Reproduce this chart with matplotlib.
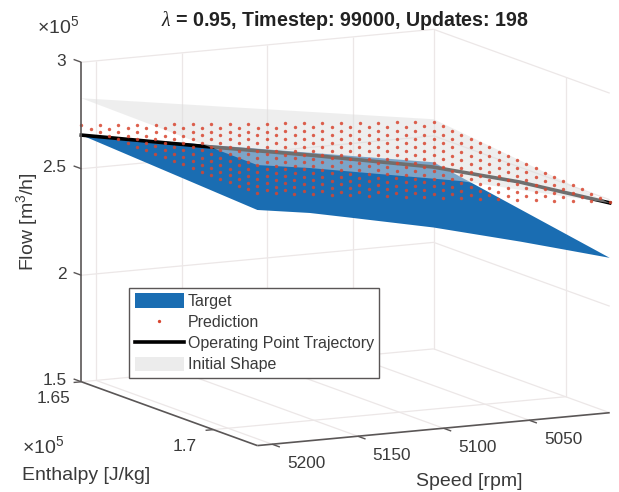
import numpy as np
import matplotlib
matplotlib.use("Agg")
import matplotlib.pyplot as plt
from matplotlib.lines import Line2D
from matplotlib.patches import Patch
from mpl_toolkits.mplot3d.art3d import Poly3DCollection

plt.rcParams['font.family'] = ['Liberation Sans', 'DejaVu Sans']
plt.rcParams['mathtext.fontset'] = 'custom'
plt.rcParams['mathtext.rm'] = 'Liberation Sans'
plt.rcParams['mathtext.it'] = 'Liberation Serif:italic'

# axis limits and ticks, enthalpy and flow in units of 1e5
speed_lim = [5003, 5208.6]
enthalpy_lim = [1.65, 1.7167]
flow_lim = [1.5, 3.0]
speed_ticks = [5200, 5150, 5100, 5050]
enthalpy_ticks = [1.65, 1.7]
flow_ticks = [1.5, 2.0, 2.5, 3.0]
flow_tick_labels = ['1.5', '2', '2.5', '3']

# target surface, front edge runs from max speed to min speed at max enthalpy
target_edge_speed = [5208.6, 5178, 5153, 5106, 5055, 5028.7, 5003]
target_edge_flow = [2.606, 2.569, 2.527, 2.447, 2.342, 2.284, 2.227]
target_back_flow = [2.658, 2.376]  # max speed, min speed at min enthalpy

# initial shape
initial_edge_speed = [5208.6, 5178, 5090, 5003]
initial_edge_flow = [2.817, 2.780, 2.653, 2.484]
initial_back_flow = [2.831, 2.578]

# operating point trajectory
traj_speed = [5208.6, 5161.5, 5119.8, 5071.9, 5038, 5003]
traj_enthalpy = [1.65, 1.6653, 1.6788, 1.6944, 1.7053, 1.7167]
traj_flow = [2.658, 2.639, 2.627, 2.605, 2.558, 2.485]

# prediction grid, rows go min to max enthalpy, columns max to min speed
pred_flow = [
    [2.705,2.698,2.690,2.683,2.675,2.668,2.660,2.653,2.646,2.638,2.631,2.623,2.616,2.609,2.601,2.594,2.586,2.579,2.571,2.564],
    [2.704,2.696,2.689,2.681,2.674,2.666,2.659,2.651,2.643,2.636,2.628,2.621,2.613,2.605,2.598,2.590,2.583,2.575,2.568,2.560],
    [2.703,2.695,2.688,2.680,2.672,2.664,2.657,2.649,2.641,2.633,2.626,2.618,2.610,2.602,2.595,2.587,2.579,2.571,2.564,2.556],
    [2.702,2.694,2.686,2.678,2.670,2.663,2.655,2.647,2.639,2.631,2.623,2.615,2.607,2.599,2.592,2.584,2.576,2.568,2.560,2.552],
    [2.701,2.693,2.685,2.677,2.669,2.661,2.653,2.645,2.637,2.629,2.621,2.613,2.605,2.596,2.588,2.580,2.572,2.564,2.556,2.548],
    [2.700,2.692,2.684,2.675,2.667,2.659,2.651,2.643,2.634,2.626,2.618,2.610,2.602,2.593,2.585,2.577,2.569,2.561,2.552,2.544],
    [2.699,2.691,2.682,2.674,2.666,2.657,2.649,2.641,2.632,2.624,2.615,2.607,2.599,2.590,2.582,2.574,2.565,2.557,2.549,2.540],
    [2.698,2.689,2.681,2.672,2.664,2.655,2.647,2.638,2.630,2.621,2.613,2.604,2.596,2.587,2.579,2.570,2.562,2.553,2.545,2.536],
    [2.697,2.688,2.680,2.671,2.662,2.654,2.645,2.636,2.628,2.619,2.610,2.602,2.593,2.584,2.576,2.567,2.558,2.550,2.541,2.532],
    [2.696,2.687,2.678,2.670,2.661,2.652,2.643,2.634,2.625,2.617,2.608,2.599,2.590,2.581,2.573,2.564,2.555,2.546,2.537,2.528],
    [2.695,2.686,2.677,2.668,2.659,2.650,2.641,2.632,2.623,2.614,2.605,2.596,2.587,2.578,2.569,2.560,2.551,2.542,2.533,2.525],
    [2.694,2.685,2.676,2.667,2.657,2.648,2.639,2.630,2.621,2.612,2.603,2.593,2.584,2.575,2.566,2.557,2.548,2.539,2.530,2.521],
    [2.693,2.684,2.674,2.665,2.656,2.647,2.637,2.628,2.619,2.609,2.600,2.591,2.582,2.572,2.563,2.554,2.544,2.535,2.526,2.517],
    [2.692,2.683,2.673,2.664,2.654,2.645,2.635,2.626,2.616,2.607,2.598,2.588,2.579,2.569,2.560,2.550,2.541,2.531,2.522,2.513],
    [2.691,2.681,2.672,2.662,2.653,2.643,2.633,2.624,2.614,2.605,2.595,2.585,2.576,2.566,2.557,2.547,2.537,2.528,2.518,2.509],
    [2.690,2.680,2.671,2.661,2.651,2.641,2.632,2.622,2.612,2.602,2.593,2.583,2.573,2.563,2.553,2.544,2.534,2.524,2.515,2.505],
    [2.689,2.679,2.669,2.659,2.649,2.639,2.630,2.620,2.610,2.600,2.590,2.580,2.570,2.560,2.550,2.540,2.531,2.521,2.511,2.501],
    [2.688,2.678,2.668,2.658,2.648,2.638,2.628,2.618,2.608,2.597,2.587,2.577,2.567,2.557,2.547,2.537,2.527,2.517,2.507,2.497],
    [2.687,2.677,2.667,2.656,2.646,2.636,2.626,2.616,2.605,2.595,2.585,2.575,2.564,2.554,2.544,2.534,2.524,2.513,2.503,2.493],
    [2.686,2.676,2.665,2.655,2.644,2.634,2.624,2.613,2.603,2.593,2.582,2.572,2.562,2.551,2.541,2.531,2.520,2.510,2.500,2.489],
]

BLUE = '#1a6db2'
RED = '#d8452f'
GREY = '#dedede'
GRID = '#ece7e7'
AXIS = '#5a5656'
TEXT = '#3a3a3a'
W, H = 619, 492

fig = plt.figure(figsize=(W / 100, H / 100), dpi=100)
S = 624
ax = fig.add_axes([25.1 / W, -65.9 / H, S / W, S / H], projection='3d', proj_type='ortho')
ax.set_axis_off()
ax.computed_zorder = False
ax.view_init(elev=10.6, azim=63.1)
ax.set_box_aspect((395, 389, 325))

s_lo, s_hi = speed_lim
e_lo, e_hi = enthalpy_lim
z_lo, z_hi = flow_lim


def line3(xs, ys, zs, color=GRID, lw=0.9, z=1):
    ax.plot(xs, ys, zs, color=color, lw=lw, zorder=z, solid_capstyle='butt')


# back walls and floor grid
line3([s_hi, s_lo], [e_lo, e_lo], [z_hi, z_hi])
line3([s_lo, s_lo], [e_lo, e_hi], [z_hi, z_hi])
line3([s_lo, s_lo], [e_lo, e_lo], [z_lo, z_hi])
line3([s_lo, s_lo], [e_lo, e_hi], [z_lo, z_lo])
line3([s_hi, s_lo], [e_lo, e_lo], [z_lo, z_lo])
for v in flow_ticks[1:3]:
    line3([s_hi, s_lo, s_lo], [e_lo, e_lo, e_hi], [v, v, v])
for v in speed_ticks:
    line3([v, v], [e_lo, e_lo], [z_lo, z_hi])
    line3([v, v], [e_lo, e_hi], [z_lo, z_lo])
for v in enthalpy_ticks[1:]:
    line3([s_lo, s_lo], [v, v], [z_lo, z_hi])
    line3([s_hi, s_lo], [v, v], [z_lo, z_lo])

# surfaces and trajectory, the initial shape sits over target and trajectory
target_verts = [(s, e_hi, f) for s, f in zip(target_edge_speed, target_edge_flow)]
target_verts += [(s_lo, e_lo, target_back_flow[1]), (s_hi, e_lo, target_back_flow[0])]
ax.add_collection3d(Poly3DCollection([target_verts], facecolors=BLUE, linewidths=0, zorder=2))

ax.plot(traj_speed, traj_enthalpy, traj_flow, color='black', lw=2.6, zorder=3)

initial_verts = [(s, e_hi, f) for s, f in zip(initial_edge_speed, initial_edge_flow)]
initial_verts += [(s_lo, e_lo, initial_back_flow[1]), (s_hi, e_lo, initial_back_flow[0])]
ax.add_collection3d(Poly3DCollection([initial_verts], facecolors=GREY, alpha=0.5,
                                     linewidths=0, zorder=4))

pred_flow = np.array(pred_flow)
pred_speed = np.linspace(s_hi, s_lo, pred_flow.shape[1])
pred_enthalpy = np.linspace(e_lo, e_hi, pred_flow.shape[0])
X, Y = np.meshgrid(pred_speed, pred_enthalpy)
ax.scatter(X.ravel(), Y.ravel(), pred_flow.ravel(), s=6, c=RED, alpha=0.85,
           linewidths=0, depthshade=False, zorder=5)

# axis lines with ticks
line3([s_hi, s_hi], [e_lo, e_lo], [z_lo, z_hi], AXIS, 1.2, 6)
line3([s_hi, s_hi], [e_lo, e_hi], [z_lo, z_lo], AXIS, 1.2, 6)
line3([s_hi, s_lo], [e_hi, e_hi], [z_lo, z_lo], AXIS, 1.2, 6)

e_span = e_hi - e_lo
s_span = s_hi - s_lo
for v, lab in zip(flow_ticks, flow_tick_labels):
    line3([s_hi, s_hi], [e_lo, e_lo - 0.044 * e_span], [v, v], AXIS, 1.0, 6)
    ax.text(s_hi, e_lo - 0.085 * e_span, v - 0.02, lab, ha='right', va='center',
            fontsize=12.4, color=TEXT, zorder=7)
for v in speed_ticks:
    line3([v, v], [e_hi, e_hi + 0.044 * e_span], [z_lo, z_lo], AXIS, 1.0, 6)
    ax.text(v, e_hi + 0.193 * e_span, z_lo - 0.035, str(v), ha='center', va='center',
            fontsize=12.4, color=TEXT, zorder=7)
for v in enthalpy_ticks:
    line3([s_hi, s_hi + 0.022 * s_span], [v, v], [z_lo, z_lo], AXIS, 1.0, 6)
    ax.text(s_hi + 0.08 * s_span, v, z_lo - 0.065, str(v), ha='center', va='center',
            fontsize=12.4, color=TEXT, zorder=7)

ax.set_xlim(speed_lim)
ax.set_ylim(enthalpy_lim)
ax.set_zlim(flow_lim)

handles = [
    Patch(facecolor=BLUE, edgecolor='none'),
    Line2D([], [], ls='none', marker='o', ms=2.4, mfc=RED, mec='none'),
    Line2D([], [], color='black', lw=2.6),
    Patch(facecolor='#ececec', edgecolor='none'),
]
leg = ax.legend(handles, ['Target', 'Prediction', 'Operating Point Trajectory', 'Initial Shape'],
                loc='lower left', bbox_to_anchor=(129 / W, 1 - 378 / H),
                bbox_transform=fig.transFigure, fontsize=11.5, handlelength=3.06, handleheight=1.0,
                labelspacing=0.34, borderpad=0.36, borderaxespad=0, handletextpad=0.25,
                fancybox=False, framealpha=1, edgecolor=AXIS, labelcolor=TEXT)
leg.get_frame().set_linewidth(1.0)
leg.set_zorder(20)


def px_text(x, y, s, **kw):
    fig.text(x / W, 1 - y / H, s, **kw)


px_text(345, 21, r'$\lambda$ = 0.95, Timestep: 99000, Updates: 198', ha='center', va='center',
        fontsize=14.1, fontweight='bold', color='#222222')
px_text(58, 26, r'$\times\mathregular{10^5}$', ha='center', va='center', fontsize=14, color=TEXT)
px_text(43, 446, r'$\times\mathregular{10^5}$', ha='center', va='center', fontsize=14, color=TEXT)
px_text(27, 222, r'Flow [m$\mathregular{^3}$/h]', ha='center', va='center', rotation=90,
        fontsize=14, color=TEXT)
px_text(86, 475, 'Enthalpy [J/kg]', ha='center', va='center', fontsize=14, color=TEXT)
px_text(469, 482, 'Speed [rpm]', ha='center', va='center', fontsize=14, color=TEXT)

fig.savefig('out.png', dpi=100)
